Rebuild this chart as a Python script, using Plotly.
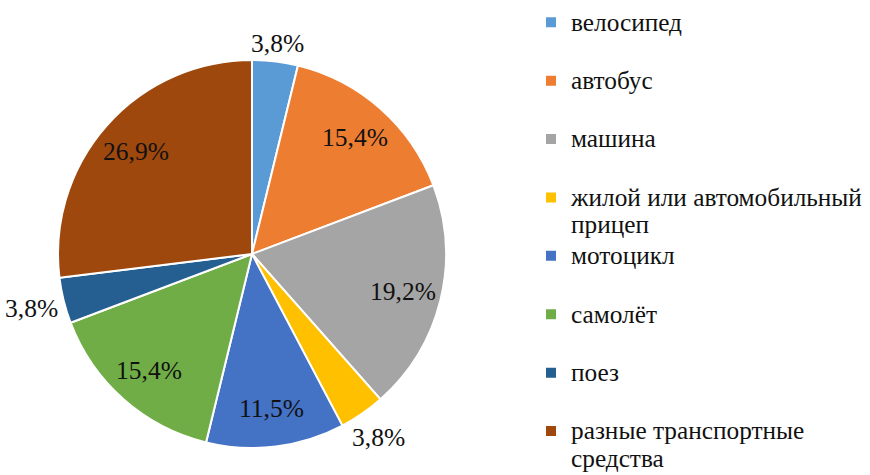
import math
import plotly.graph_objects as go

# Transport modes and their shares (%)
categories = [
    "велосипед",
    "автобус",
    "машина",
    "жилой или автомобильный<br>прицеп",
    "мотоцикл",
    "самолёт",
    "поез",
    "разные транспортные<br>средства",
]
shares = [3.8, 15.4, 19.2, 3.8, 11.5, 15.4, 3.8, 26.9]
colors = ["#5B9BD5", "#ED7D31", "#A5A5A5", "#FFC000",
          "#4472C4", "#70AD47", "#255E91", "#9E480E"]

SERIF = "Liberation Serif"
TEXT_COLOR = "#111111"
LABEL_PX = 25.5     # percentage labels
LEGEND_PX = 25.3    # visible legend glyph size
LEGEND_ROW = 21.3   # size that drives legend row height

W, H = 870, 475
cx, cy, r = 252, 254, 194


def legend_label(name):
    # each entry spans two lines so the rows are evenly spaced
    lines = name.split("<br>")
    if len(lines) == 1:
        lines.append(" ")
    style = f"font-family:{SERIF};font-size:{LEGEND_PX}px"
    return "<br>".join(f"<span style='{style}'>{ln}</span>" for ln in lines)


legend_labels = [legend_label(c) for c in categories]
pct_text = [f"{v:.1f}".replace(".", ",") + "%" for v in shares]

fig = go.Figure(go.Pie(
    labels=legend_labels,
    values=shares,
    textinfo="none",
    sort=False,
    direction="clockwise",
    rotation=0,
    marker=dict(colors=colors, line=dict(color="white", width=2)),
    domain=dict(x=[(cx - r) / W, (cx + r) / W],
                y=[(H - cy - r) / H, (H - cy + r) / H]),
    hoverinfo="label+percent",
))

# percentage labels: inside the larger slices, just outside the small ones
total = sum(shares)
start = 0.0
for v, t in zip(shares, pct_text):
    mid = (start + v / 2) / total * 2 * math.pi
    start += v
    ux, uy = math.sin(mid), -math.cos(mid)
    if v < 5:
        half_w = 0.5 * 0.52 * len(t) * LABEL_PX
        half_h = 0.4 * LABEL_PX
        dist = r + 5 + half_w * abs(ux) + half_h * abs(uy)
    else:
        dist = 0.8 * r
    px, py = cx + dist * ux, cy + dist * uy
    fig.add_annotation(
        x=px / W, y=1 - py / H, xref="paper", yref="paper",
        xanchor="center", yanchor="middle",
        text=t, showarrow=False,
        font=dict(family=SERIF, size=LABEL_PX, color=TEXT_COLOR),
    )

fig.update_layout(
    width=W, height=H,
    font=dict(family=SERIF, color=TEXT_COLOR),
    margin=dict(l=0, r=0, t=0, b=0, autoexpand=False),
    paper_bgcolor="white",
    showlegend=True,
    legend=dict(
        x=531 / W, xanchor="left",
        y=1 - 2 / H, yanchor="top",
        valign="top",
        itemwidth=30,
        maxheight=1000,
        font=dict(family=SERIF, size=LEGEND_ROW, color=TEXT_COLOR),
        bgcolor="rgba(0,0,0,0)",
    ),
)

fig.write_html("out.html")
